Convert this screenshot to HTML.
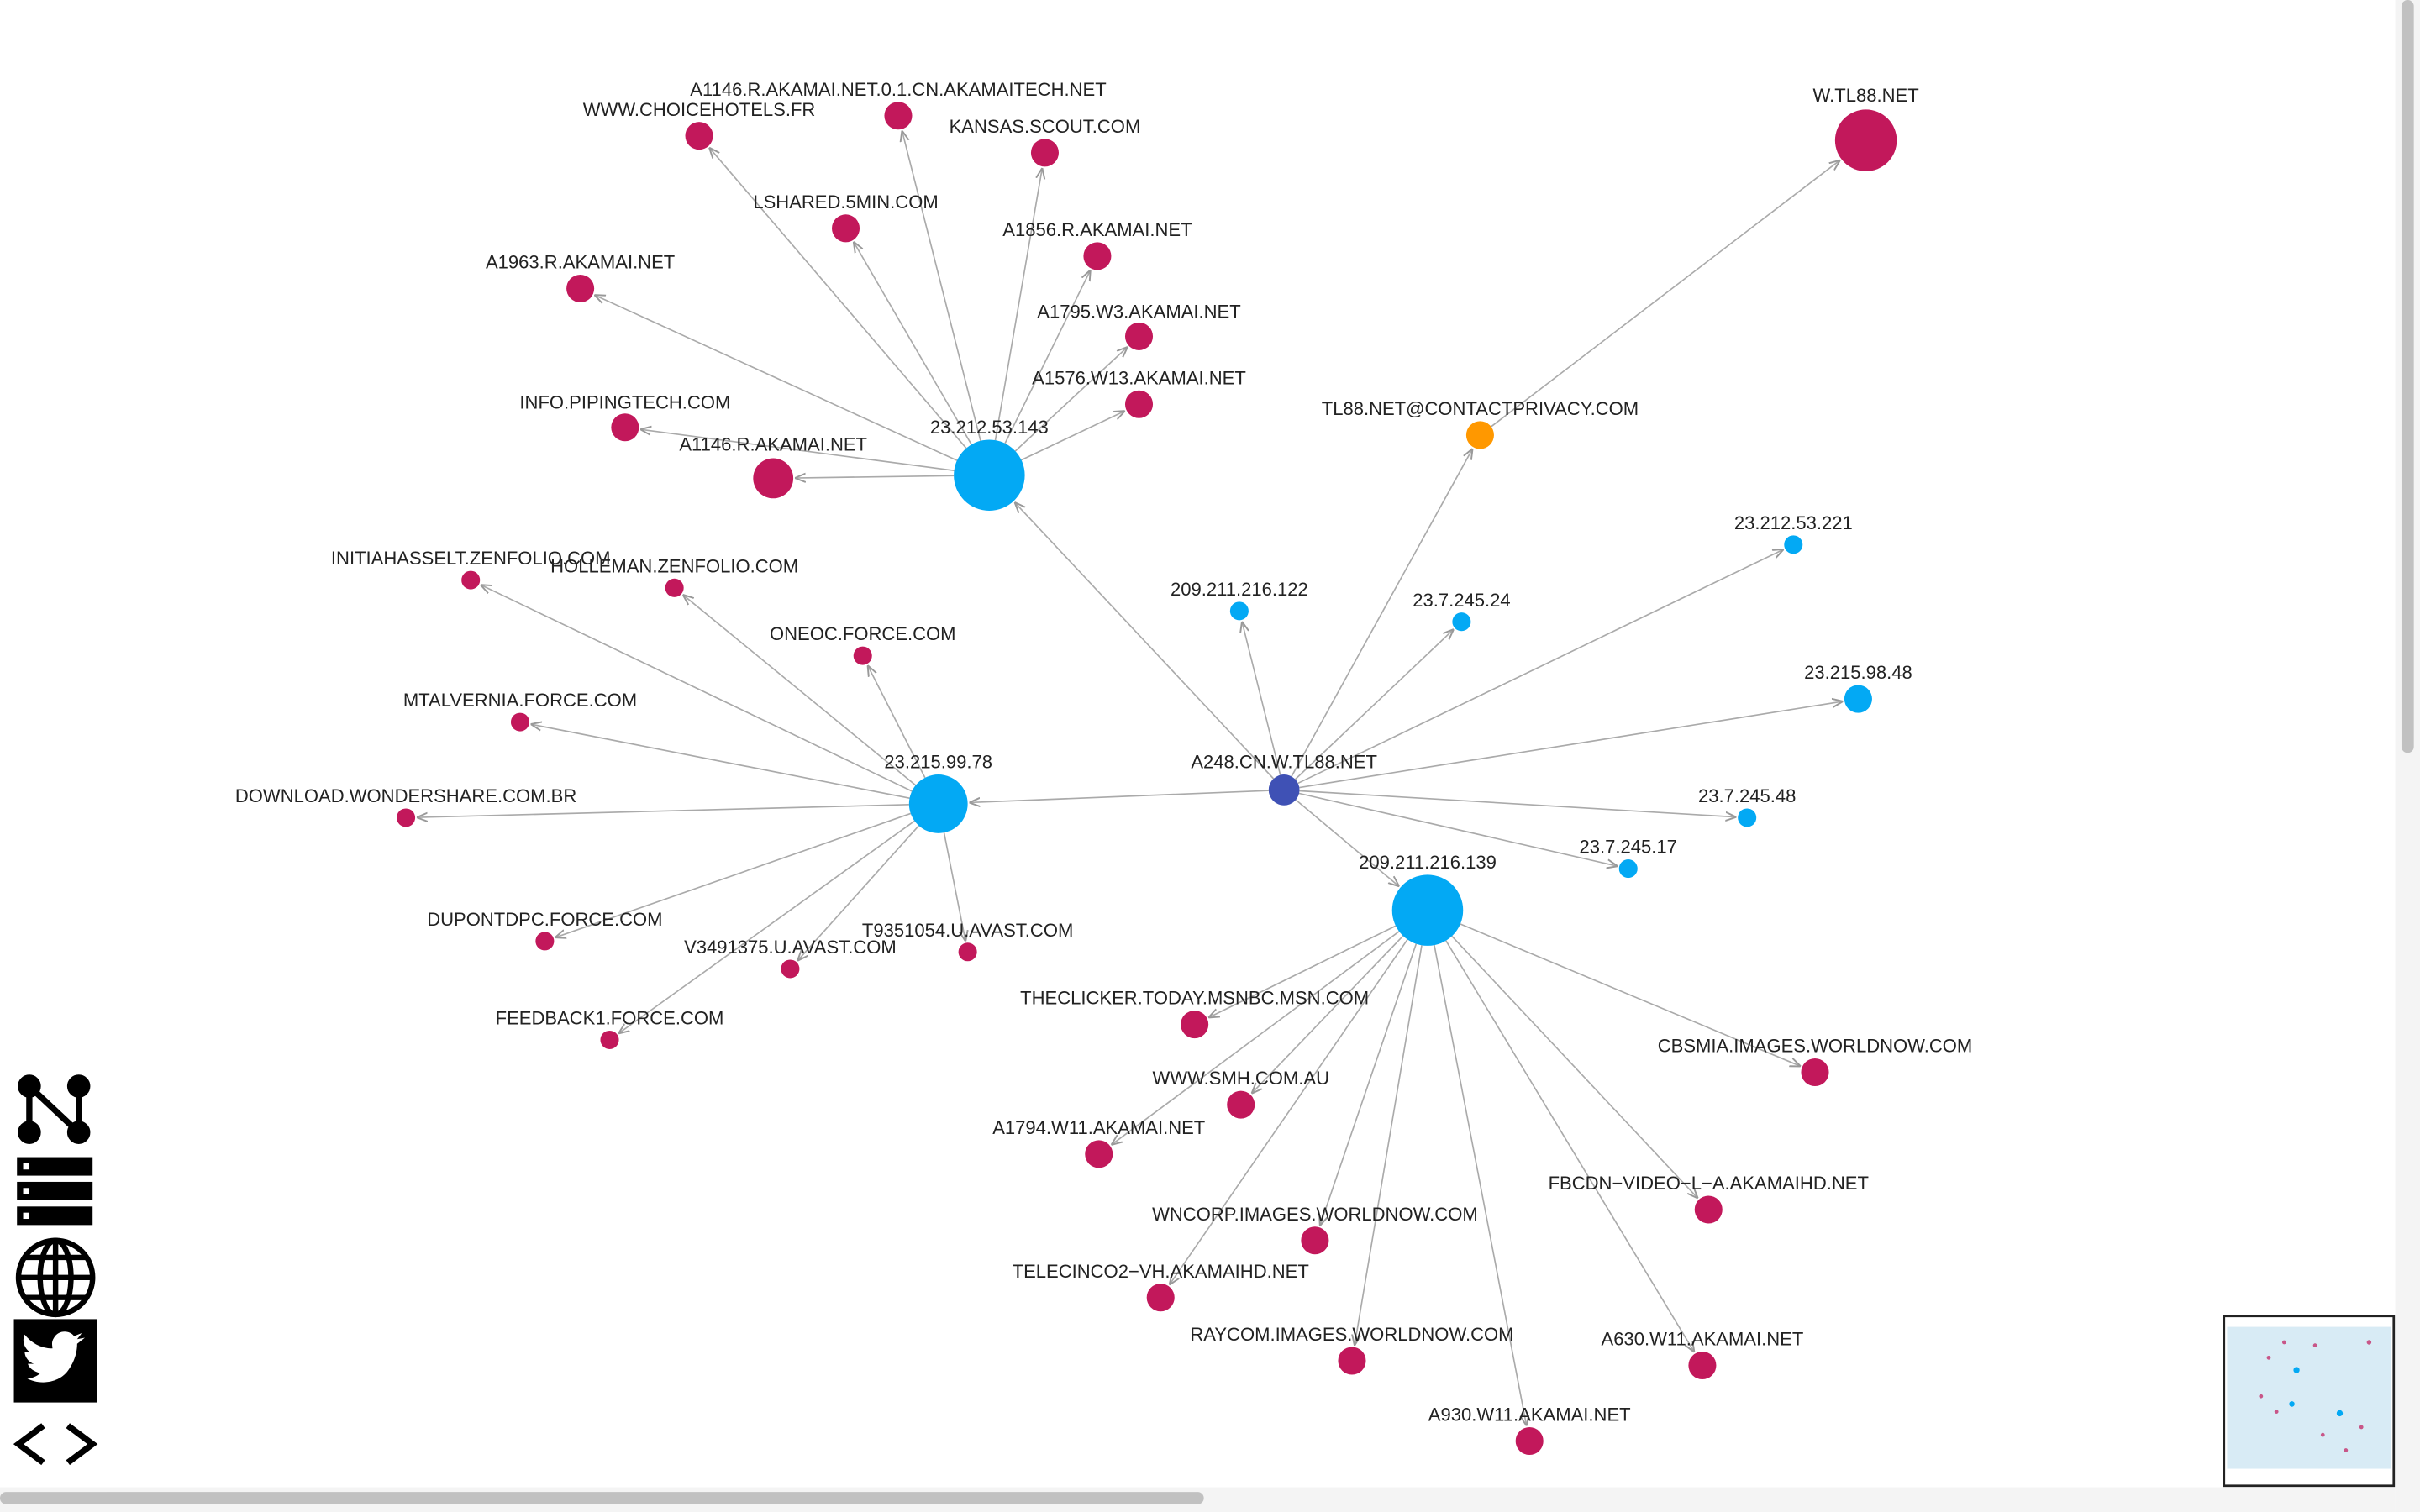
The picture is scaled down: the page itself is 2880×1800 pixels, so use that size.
<!DOCTYPE html>
<html><head><meta charset="utf-8">
<style>
html,body{margin:0;padding:0;background:#fff;overflow:hidden}
svg{display:block}
text{font-family:"Liberation Sans",sans-serif;font-size:12px;fill:#222}
</style></head>
<body>
<svg id="s" width="2880" height="1800" viewBox="0 0 1568 980" xmlns="http://www.w3.org/2000/svg">
<defs>
<marker id="ar" viewBox="0 0 10 10" refX="10" refY="5" markerWidth="7" markerHeight="7" orient="auto" markerUnits="userSpaceOnUse">
<path d="M0,1 L10,5 L0,9" fill="none" stroke="#999" stroke-width="1.5"/>
</marker>
</defs>
<g id="edges" stroke="#aaa" stroke-width="0.9" fill="none"></g>
<g id="nodes"></g>
<g id="labels"></g>
<!-- scrollbars -->
<rect x="1552" y="0" width="16" height="980" fill="#f4f4f4"/>
<rect x="1556" y="0" width="8" height="488" rx="4" fill="#c1c1c1"/>
<rect x="0" y="964" width="1552" height="16" fill="#f4f4f4"/>
<rect x="0" y="967" width="780" height="8" rx="4" fill="#c1c1c1"/>
<!-- minimap -->
<rect x="1441" y="853" width="110" height="110" fill="#fff" stroke="#222" stroke-width="1.5"/>
<rect x="1443" y="860" width="106" height="92" fill="#d8ebf5"/>
<g fill="#c2185b" opacity="0.7">
<circle cx="1470" cy="880" r="1.3"/><circle cx="1480" cy="870" r="1.3"/><circle cx="1500" cy="872" r="1.3"/><circle cx="1465" cy="905" r="1.3"/><circle cx="1475" cy="915" r="1.3"/><circle cx="1505" cy="930" r="1.3"/><circle cx="1520" cy="940" r="1.3"/><circle cx="1530" cy="925" r="1.3"/><circle cx="1535" cy="870" r="1.5"/>
</g>
<g fill="#03a9f4"><circle cx="1488" cy="888" r="2"/><circle cx="1485" cy="910" r="1.8"/><circle cx="1516" cy="916" r="2"/></g>
<!-- left icons -->
<g fill="#000" stroke="#000">
<g stroke-width="4"><line x1="19" y1="704" x2="19" y2="734"/><line x1="19" y1="704" x2="51" y2="734"/><line x1="51" y1="704" x2="51" y2="734"/></g>
<circle cx="19" cy="704" r="7"/><circle cx="51" cy="704" r="7"/><circle cx="19" cy="734" r="7"/><circle cx="51" cy="734" r="7"/>
<rect x="11" y="750" width="49" height="12" stroke="none"/><rect x="11" y="766" width="49" height="12" stroke="none"/><rect x="11" y="782" width="49" height="12" stroke="none"/>
<g fill="#fff" stroke="none"><rect x="15" y="754" width="4" height="4"/><rect x="15" y="770" width="4" height="4"/><rect x="15" y="786" width="4" height="4"/></g>
<g fill="none" stroke-width="3.5"><circle cx="36" cy="828" r="24"/><ellipse cx="36" cy="828" rx="10" ry="24"/><line x1="12" y1="828" x2="60" y2="828"/><line x1="16" y1="815" x2="56" y2="815"/><line x1="16" y1="841" x2="56" y2="841"/><line x1="36" y1="804" x2="36" y2="852"/></g>
<rect x="9" y="855" width="54" height="54" stroke="none"/>
<path d="M17,893 c8,5 22,4 28,-6 c4,-6 5,-12 5,-16 l5,-4 l-5,1 l3,-4 l-5,2 c-3,-4 -10,-4 -13,1 c-2,3 -1,5 -1,7 c-8,0 -14,-4 -18,-9 c-2,4 0,9 3,11 l-3,0 c0,4 3,7 6,8 l-4,0 c1,3 4,5 8,6 c-3,3 -8,4 -11,3z" fill="#fff" stroke="none"/>
<g fill="none" stroke-width="4"><polyline points="28,924 12,936 28,948"/><polyline points="44,924 60,936 44,948"/></g>
</g>
</svg>
<script>
var C={b:"#03a9f4",r:"#c2185b",o:"#ff9800",d:"#3f51b5"};
var N={
A:[641,308,23,"b","23.212.53.143",641,281],
B:[608,521,19,"b","23.215.99.78",608,498],
Cc:[925,590,23,"b","209.211.216.139",925,563],
X:[832,512,10,"d","A248.CN.W.TL88.NET",832,498],
O:[959,282,9,"o","TL88.NET@CONTACTPRIVACY.COM",959,269],
W:[1209,91,20,"r","W.TL88.NET",1209,66],
c1:[803,396,6,"b","209.211.216.122",803,386],
c2:[947,403,6,"b","23.7.245.24",947,393],
c3:[1162,353,6,"b","23.212.53.221",1162,343],
c4:[1204,453,9,"b","23.215.98.48",1204,440],
c5:[1132,530,6,"b","23.7.245.48",1132,520],
c6:[1055,563,6,"b","23.7.245.17",1055,553],
a1:[453,88,9,"r","WWW.CHOICEHOTELS.FR",453,75],
a2:[582,75,9,"r","A1146.R.AKAMAI.NET.0.1.CN.AKAMAITECH.NET",582,62],
a3:[677,99,9,"r","KANSAS.SCOUT.COM",677,86],
a4:[548,148,9,"r","LSHARED.5MIN.COM",548,135],
a5:[711,166,9,"r","A1856.R.AKAMAI.NET",711,153],
a6:[376,187,9,"r","A1963.R.AKAMAI.NET",376,174],
a7:[738,218,9,"r","A1795.W3.AKAMAI.NET",738,206],
a8:[738,262,9,"r","A1576.W13.AKAMAI.NET",738,249],
a9:[405,277,9,"r","INFO.PIPINGTECH.COM",405,265],
a10:[501,310,13,"r","A1146.R.AKAMAI.NET",501,292],
b1:[305,376,6,"r","INITIAHASSELT.ZENFOLIO.COM",305,366],
b2:[437,381,6,"r","HOLLEMAN.ZENFOLIO.COM",437,371],
b3:[559,425,6,"r","ONEOC.FORCE.COM",559,415],
b4:[337,468,6,"r","MTALVERNIA.FORCE.COM",337,458],
b5:[263,530,6,"r","DOWNLOAD.WONDERSHARE.COM.BR",263,520],
b6:[353,610,6,"r","DUPONTDPC.FORCE.COM",353,600],
b7:[512,628,6,"r","V3491375.U.AVAST.COM",512,618],
b8:[627,617,6,"r","T9351054.U.AVAST.COM",627,607],
b9:[395,674,6,"r","FEEDBACK1.FORCE.COM",395,664],
d1:[774,664,9,"r","THECLICKER.TODAY.MSNBC.MSN.COM",774,651],
d2:[804,716,9,"r","WWW.SMH.COM.AU",804,703],
d3:[712,748,9,"r","A1794.W11.AKAMAI.NET",712,735],
d4:[1176,695,9,"r","CBSMIA.IMAGES.WORLDNOW.COM",1176,682],
d5:[1107,784,9,"r","FBCDN−VIDEO−L−A.AKAMAIHD.NET",1107,771],
d6:[852,804,9,"r","WNCORP.IMAGES.WORLDNOW.COM",852,791],
d7:[752,841,9,"r","TELECINCO2−VH.AKAMAIHD.NET",752,828],
d8:[876,882,9,"r","RAYCOM.IMAGES.WORLDNOW.COM",876,869],
d9:[1103,885,9,"r","A630.W11.AKAMAI.NET",1103,872],
d10:[991,934,9,"r","A930.W11.AKAMAI.NET",991,921]
};
var E=[["X","A"],["X","B"],["X","Cc"],["X","O"],["O","W"],["X","c1"],["X","c2"],["X","c3"],["X","c4"],["X","c5"],["X","c6"]];
for(var i=1;i<=10;i++)E.push(["A","a"+i]);
for(var i=1;i<=9;i++)E.push(["B","b"+i]);
for(var i=1;i<=10;i++)E.push(["Cc","d"+i]);
var ns="http://www.w3.org/2000/svg";
function el(t,a,p){var e=document.createElementNS(ns,t);for(var k in a)e.setAttribute(k,a[k]);document.getElementById(p).appendChild(e);return e;}
E.forEach(function(e){var s=N[e[0]],t=N[e[1]];var dx=t[0]-s[0],dy=t[1]-s[1],L=Math.hypot(dx,dy);
el("line",{x1:s[0]+dx/L*s[2],y1:s[1]+dy/L*s[2],x2:t[0]-dx/L*(t[2]+1),y2:t[1]-dy/L*(t[2]+1),"marker-end":"url(#ar)"},"edges");});
for(var k in N){var n=N[k];el("circle",{cx:n[0],cy:n[1],r:n[2],fill:C[n[3]]},"nodes");
var tx=el("text",{x:n[5],y:n[6],"text-anchor":"middle"},"labels");tx.textContent=n[4];}
</script>
</body></html>
